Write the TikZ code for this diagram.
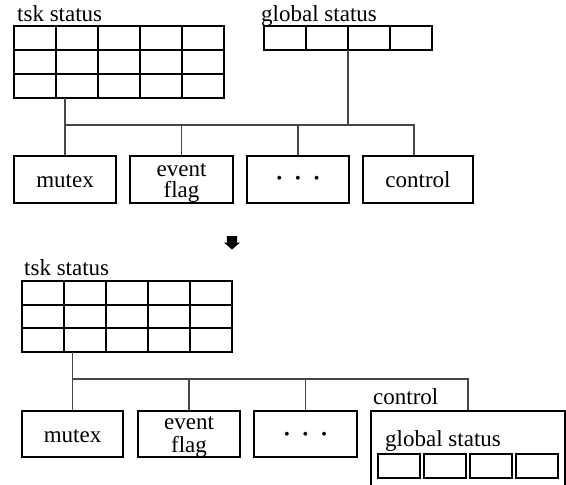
\documentclass[tikz,border=0pt]{standalone}
\usepackage{fontspec}
\setmainfont{Liberation Serif}
\begin{document}
\begin{tikzpicture}[x=1pt,y=-1pt,
  gridline/.style={line width=1.8pt, black, line cap=rect},
  box/.style={draw=black, line width=1.8pt, inner sep=0pt},
  area/.style={inner sep=0pt, outer sep=0pt},
  wire/.style={draw=black!72, line width=1.1pt},
  lbl/.style={font=\fontsize{23}{24}\selectfont, inner sep=0pt, anchor=base},
  ttl/.style={lbl, anchor=base west},
  ellip/.style={font=\fontsize{16}{16}\selectfont, inner sep=0pt}]
\useasboundingbox (0,0) rectangle (566,485);
\clip (0,0) rectangle (566,485);

% ---------- before ----------
% task status table (3 x 5)
\node[area, minimum width=210pt, minimum height=72pt] (tskA) at (119,62) {};
\node[ttl] (tskAt) at (17,21) {tsk status};
\foreach \i in {0,...,5} \draw[gridline] (14+42*\i,26) -- (14+42*\i,98);
\foreach \j in {0,...,3} \draw[gridline] (14,26+24*\j) -- (224,26+24*\j);

% global status table (1 x 4)
\node[area, minimum width=168pt, minimum height=24pt] (gstA) at (348,38) {};
\node[ttl] (gstAt) at (261,21) {global status};
\foreach \i in {0,...,4} \draw[gridline] (264+42*\i,26) -- (264+42*\i,50);
\foreach \j in {0,1} \draw[gridline] (264,26+24*\j) -- (432,26+24*\j);

% objects
\node[box, minimum width=102pt, minimum height=47pt] (mutexA) at (65,179.5) {};
\node[box, minimum width=103pt, minimum height=47pt] (evA) at (181.5,179.5) {};
\node[box, minimum width=102pt, minimum height=47pt] (dotsA) at (298,179.5) {};
\node[box, minimum width=110pt, minimum height=47pt] (ctrlA) at (418,179.5) {};
\node[lbl] (mutexAt) at (65,187) {mutex};
\node[lbl] (evAt1) at (181.5,176) {event};
\node[lbl] (evAt2) at (181.5,197) {flag};
\node[ellip] (dotsAt) at (dotsA.center) {\textbullet\hspace{13pt}\textbullet\hspace{13pt}\textbullet};
\node[lbl] (ctrlAt) at (418,187) {control};

% links
\coordinate (busA) at (0,125);
\draw[wire] (tskA.south -| mutexA.north) -- (mutexA.north);
\draw[wire] (mutexA.north |- busA) -- ([xshift=-4pt]ctrlA.north |- busA) -- ([xshift=-4pt]ctrlA.north);
\draw[wire] (gstA.south) -- (gstA.south |- busA);
\draw[wire] (evA.north |- busA) -- (evA.north);
\draw[wire] (dotsA.north |- busA) -- (dotsA.north);

% ---------- transition ----------
\fill[black] (226.8,236) -- (237.2,236) -- (237.2,242.7) -- (240,242.7)
  -- (232,249.5) -- (224,242.7) -- (226.8,242.7) -- cycle;

% ---------- after ----------
\node[area, minimum width=210pt, minimum height=71pt] (tskB) at (127,316.5) {};
\node[ttl] (tskBt) at (24,275) {tsk status};
\foreach \i in {0,...,5} \draw[gridline] (22+42*\i,281) -- (22+42*\i,352);
\foreach \y in {281,305,328,352} \draw[gridline] (22,\y) -- (232,\y);

\node[box, minimum width=101pt, minimum height=46pt] (mutexB) at (72.5,434) {};
\node[box, minimum width=102pt, minimum height=46pt] (evB) at (189,434) {};
\node[box, minimum width=103pt, minimum height=46pt] (dotsB) at (305.5,434) {};
\node[box, minimum width=194pt, minimum height=89pt] (ctrlB) at (468,455.5) {};
\node[lbl] (mutexBt) at (72.5,442) {mutex};
\node[lbl] (evBt1) at (189,429) {event};
\node[lbl] (evBt2) at (189,452) {flag};
\node[ellip] (dotsBt) at ([yshift=-1.5pt]dotsB.center) {\textbullet\hspace{13pt}\textbullet\hspace{13pt}\textbullet};
\node[ttl] (ctrlBt) at (373,404) {control};
\node[ttl] (gstBt) at (385,446) {global status};
\foreach \x in {378,424,470,516}
  \draw[box] (\x,454) rectangle (\x+42,478);

\coordinate (busB) at (0,379);
\draw[wire] (tskB.south -| mutexB.north) -- (mutexB.north);
\draw[wire] (mutexB.north |- busB) -- (ctrlB.north |- busB) -- (ctrlB.north);
\draw[wire] (evB.north |- busB) -- (evB.north);
\draw[wire] (dotsB.north |- busB) -- (dotsB.north);
\end{tikzpicture}
\end{document}
